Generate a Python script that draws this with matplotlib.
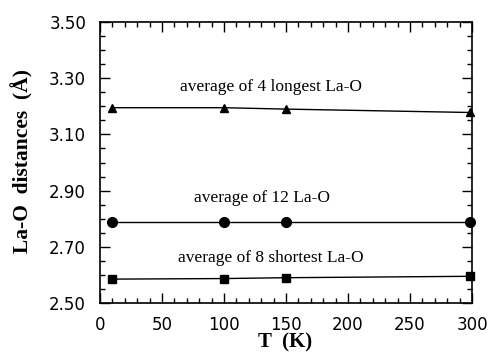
import matplotlib
matplotlib.use("Agg")
import matplotlib.pyplot as plt
from matplotlib.ticker import MultipleLocator, FixedLocator, FormatStrFormatter

T = [10, 100, 150, 298]
longest4 = [3.195, 3.195, 3.19, 3.178]
avg12 = [2.79, 2.79, 2.79, 2.79]
shortest8 = [2.585, 2.587, 2.59, 2.595]
labels = ["average of 4 longest La-O", "average of 12 La-O", "average of 8 shortest La-O"]
label_pos = [(138, 3.27), (131, 2.872), (138, 2.66)]
yticks = [2.50, 2.70, 2.90, 3.10, 3.30, 3.50]

fig = plt.figure(figsize=(4.9, 3.55), dpi=100)
ax = fig.add_axes([100/490, 1 - 303/355, (472-100)/490, (303-22)/355])

ax.plot(T, longest4, '-^', color='black', lw=1, ms=6, clip_on=False)
ax.plot(T, avg12, '-o', color='black', lw=1, ms=7, clip_on=False)
ax.plot(T, shortest8, '-s', color='black', lw=1, ms=6, clip_on=False)

for txt, (x, y) in zip(labels, label_pos):
    ax.text(x, y, txt, ha='center', va='center', family='Liberation Serif', fontsize=12.5)

ax.set_xlim(0, 300)
ax.set_ylim(2.5, 3.5)
ax.xaxis.set_major_locator(MultipleLocator(50))
ax.xaxis.set_minor_locator(MultipleLocator(10))
ax.yaxis.set_major_locator(FixedLocator(yticks))
ax.yaxis.set_minor_locator(MultipleLocator(0.05))
ax.yaxis.set_major_formatter(FormatStrFormatter('%.2f'))
ax.tick_params(which='both', direction='in', top=True, right=True, width=1)
ax.tick_params(which='major', length=7, labelsize=12)
ax.tick_params(axis='y', which='major', pad=10)
ax.tick_params(axis='x', which='major', pad=9)
ax.tick_params(which='minor', length=3.5)
for lab in ax.get_xticklabels() + ax.get_yticklabels():
    lab.set_family('DejaVu Sans')
for s in ax.spines.values():
    s.set_linewidth(1.2)

fig.text(285/490, 1 - 342/355, 'T  (K)', family='Liberation Serif', fontweight='bold',
         fontsize=15, ha='center', va='center')
fig.text(22/490, 1 - 161/355, 'La-O  distances  (Å)', family='Liberation Serif', fontweight='bold',
         fontsize=15.5, ha='center', va='center', rotation=90)

fig.savefig('out.png', dpi=100)
